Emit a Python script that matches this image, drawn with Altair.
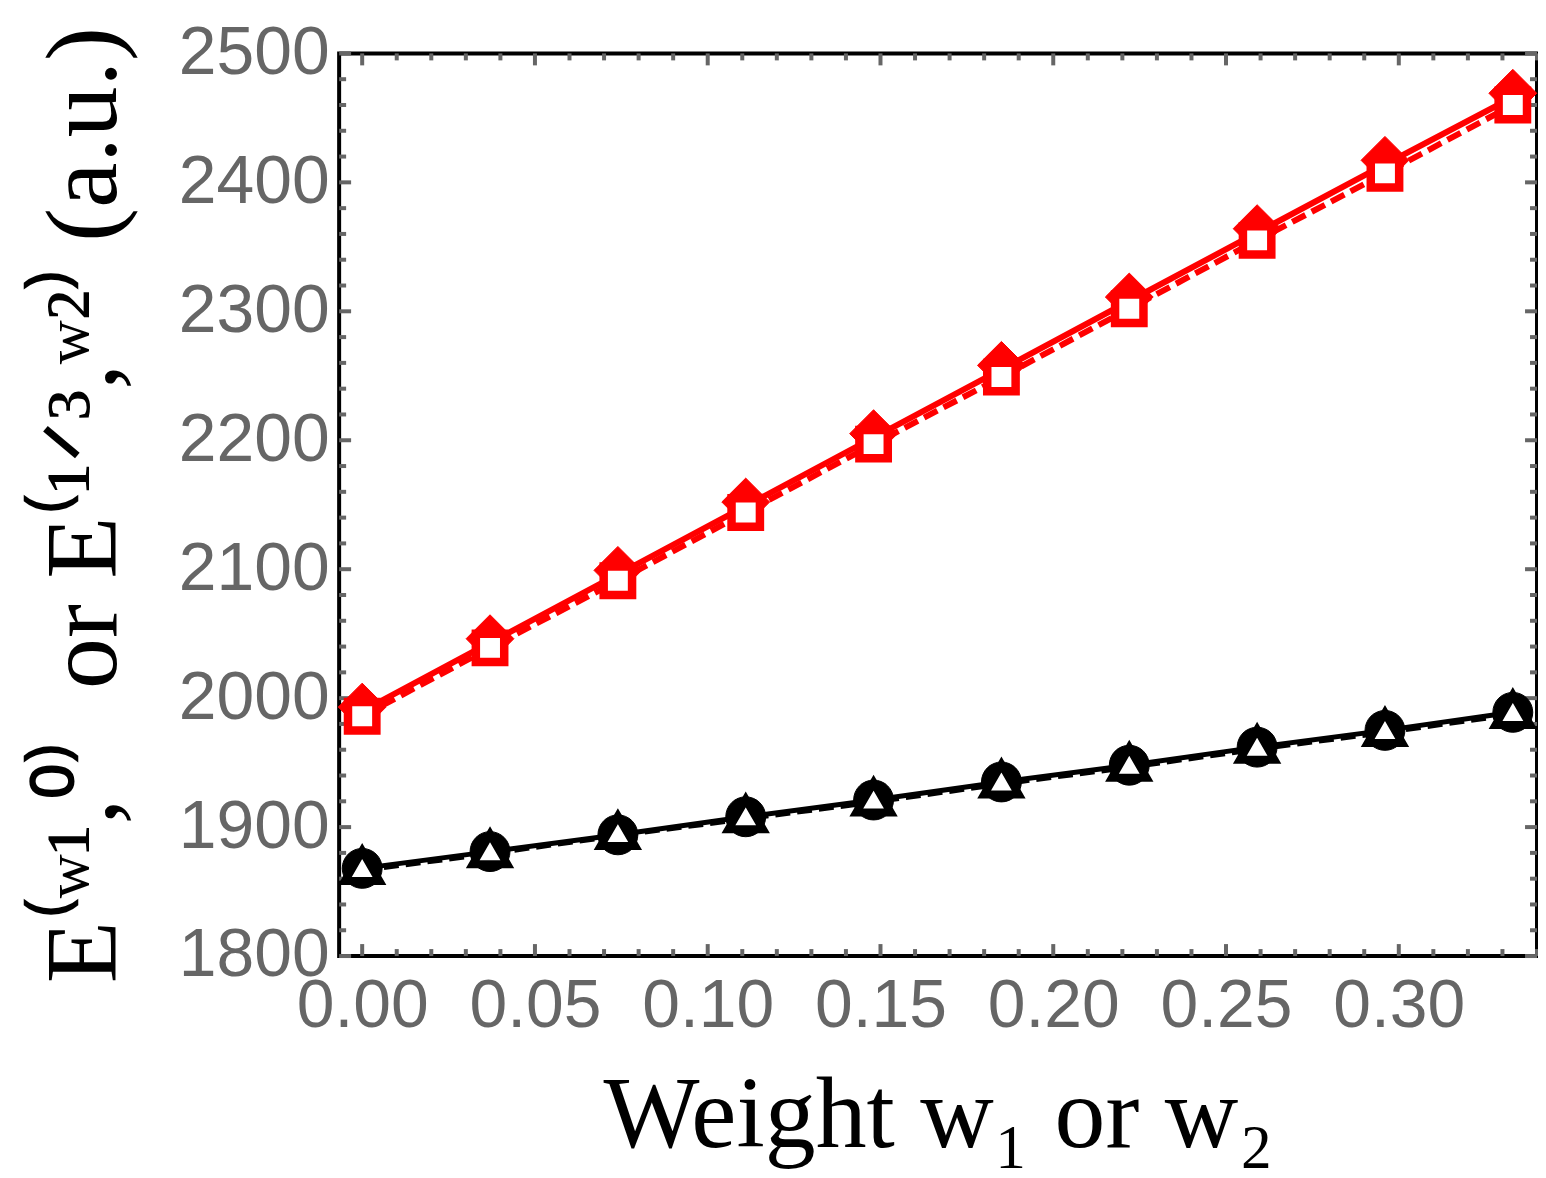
import altair as alt
import pandas as pd

# ---- data ----
x_vals = [0.0, 0.037, 0.074, 0.111, 0.148, 0.185, 0.222, 0.259, 0.296, 0.333]
red_solid = [1990, 2043, 2096, 2149, 2202, 2255, 2308, 2361, 2414, 2466]     # filled diamonds
red_dashed = [1986, 2039, 2091, 2144, 2197, 2249, 2302, 2355, 2407, 2460]    # open squares
black_solid = [1868, 1881, 1894, 1908, 1921, 1935, 1948, 1962, 1975, 1989]   # filled circles
black_dashed = [1866, 1879, 1893, 1906, 1919, 1933, 1946, 1960, 1973, 1987]  # open triangles

x_major = [0.0, 0.05, 0.10, 0.15, 0.20, 0.25, 0.30]
x_minor = [0.01, 0.02, 0.03, 0.04, 0.06, 0.07, 0.08, 0.09, 0.11, 0.12, 0.13, 0.14,
           0.16, 0.17, 0.18, 0.19, 0.21, 0.22, 0.23, 0.24, 0.26, 0.27, 0.28, 0.29,
           0.31, 0.32, 0.33, 0.34]
y_major = [1800, 1900, 2000, 2100, 2200, 2300, 2400, 2500]
y_minor = [1820, 1840, 1860, 1880, 1920, 1940, 1960, 1980, 2020, 2040, 2060, 2080,
           2120, 2140, 2160, 2180, 2220, 2240, 2260, 2280, 2320, 2340, 2360, 2380,
           2420, 2440, 2460, 2480]

W, H = 1201, 905
TICK = "#666666"
TRIANGLE = "M0,-1.1547L1,0.57735L-1,0.57735Z"   # equilateral, centred on its centroid
NB = "\u00a0"

y_title = ("E\u207d\u02b7\u00b9,\u2070\u207e" + NB + " or " +
           "E\u207d\u00b9\u141f\u00b3,\u02b7\u00b2\u207e" + " (a.u.)")

xs = alt.Scale(domain=[-0.00667, 0.34], nice=False, zero=False)
ys = alt.Scale(domain=[1800, 2500], nice=False, zero=False)

xaxis = alt.Axis(values=x_major, format=".2f", ticks=False, tickSize=0, domain=False, grid=False,
                 labelFont="Liberation Sans", labelFontSize=68, labelColor=TICK, labelPadding=17,
                 labelFlush=False, labelOverlap=False,
                 title="Weight w\u2081 or w\u2082", titleFont="Liberation Serif", titleFontSize=102,
                 titleFontWeight="normal", titleColor="black", titlePadding=25)
yaxis = alt.Axis(values=y_major, format="d", ticks=False, tickSize=0, domain=False, grid=False,
                 labelFont="Liberation Sans", labelFontSize=68, labelColor=TICK, labelPadding=10,
                 labelFlush=False, labelOverlap=False,
                 title=y_title, titleFont="Liberation Serif", titleFontSize=102,
                 titleFontWeight="normal", titleColor="black", titlePadding=42)


def X(field="x"):
    return alt.X(f"{field}:Q", scale=xs, axis=xaxis)


def Y(field="y"):
    return alt.Y(f"{field}:Q", scale=ys, axis=yaxis)


def series(vals, color, dash, lw, shape, fill, size, sw, yoff=0):
    df = pd.DataFrame({"x": x_vals, "y": vals})
    base = alt.Chart(df).encode(x=X(), y=Y())
    line_kw = dict(color=color, strokeWidth=lw)
    if dash:
        line_kw["strokeDash"] = dash
    line = base.mark_line(**line_kw)
    pt_kw = dict(shape=shape, filled=True, fill=fill, stroke=color, strokeWidth=sw,
                 size=size, opacity=1, fillOpacity=1, strokeOpacity=1, strokeJoin="miter")
    if yoff:
        pt_kw["yOffset"] = yoff
    pts = base.mark_point(**pt_kw)
    return line, pts


rs_l, rs_p = series(red_solid, "#ff0000", None, 6, "diamond", "#ff0000", 2300, 1, yoff=-4)
bs_l, bs_p = series(black_solid, "#000000", None, 5, "circle", "#000000", 1600, 1)
rd_l, rd_p = series(red_dashed, "#ff0000", [15, 7], 6, "square", "#ffffff", 810, 8.5)
bd_l, bd_p = series(black_dashed, "#000000", [15, 7], 4, TRIANGLE, "#ffffff", 1200, 8)

# ---- ticks (inward, on all four sides) ----
xmaj = pd.DataFrame({"v": x_major})
xmin = pd.DataFrame({"v": x_minor})
ymaj = pd.DataFrame({"v": y_major})
ymin = pd.DataFrame({"v": y_minor})

tick_layers = []
for df, L in [(xmaj, 12), (xmin, 7)]:
    tick_layers.append(alt.Chart(df).mark_rule(color=TICK, strokeWidth=4).encode(
        x=X("v"), y=alt.value(H), y2=alt.value(H - L)))
    tick_layers.append(alt.Chart(df).mark_rule(color=TICK, strokeWidth=4).encode(
        x=X("v"), y=alt.value(0), y2=alt.value(L)))
for df, L in [(ymaj, 12), (ymin, 7)]:
    tick_layers.append(alt.Chart(df).mark_rule(color=TICK, strokeWidth=4).encode(
        y=Y("v"), x=alt.value(0), x2=alt.value(L)))
    tick_layers.append(alt.Chart(df).mark_rule(color=TICK, strokeWidth=4).encode(
        y=Y("v"), x=alt.value(W), x2=alt.value(W - L)))

chart = alt.layer(
    *tick_layers,
    rs_l, bs_l, rs_p, bs_p,
    rd_l, bd_l, rd_p, bd_p,
).properties(
    width=W, height=H,
    autosize=alt.AutoSizeParams(type="none"),
    padding={"left": 332, "top": 44, "right": 1, "bottom": 218},
    background="white",
).configure_view(stroke="black", strokeWidth=4)

chart.save("out.html", embed_options={"renderer": "svg", "actions": False})
